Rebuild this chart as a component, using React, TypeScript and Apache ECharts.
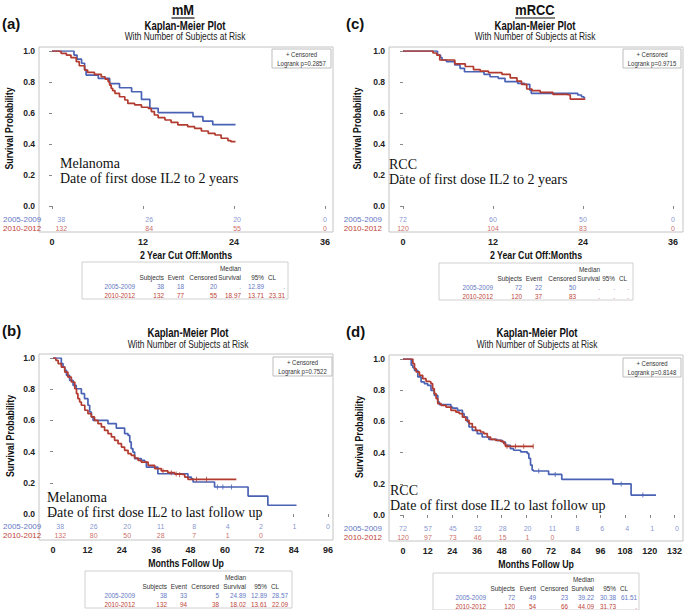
import React, { useEffect, useRef } from "react";
import * as echarts from "echarts";

// ---------------- DATA ----------------
const groups = ["2005-2009", "2010-2012"];

// (a) mM, 2 years
const kmA_2005 = [[0,1],[2.9,0.974],[3.3,0.947],[3.9,0.921],[4.3,0.88],[4.5,0.845],[6.1,0.824],[7.6,0.79],[8.9,0.763],[10.5,0.737],[11.8,0.688],[12.9,0.63],[14.0,0.602],[18.6,0.576],[19.9,0.548],[21.2,0.525],[24.2,0.525]];
const kmA_2010 = [[0,1],[0.8,0.996],[1.2,0.985],[1.9,0.974],[2.5,0.957],[3.2,0.931],[3.6,0.905],[4.3,0.877],[4.7,0.862],[5.6,0.849],[6.5,0.834],[7.0,0.819],[7.4,0.802],[7.6,0.78],[7.8,0.759],[8.0,0.745],[8.3,0.727],[8.9,0.705],[9.6,0.684],[10.0,0.662],[10.9,0.652],[11.8,0.637],[12.7,0.63],[13.1,0.609],[13.5,0.587],[14.0,0.57],[14.9,0.555],[15.7,0.54],[16.6,0.523],[17.9,0.512],[18.8,0.501],[19.7,0.484],[20.6,0.469],[21.5,0.458],[22.3,0.437],[23.2,0.422],[23.6,0.415],[24.2,0.415]];
const riskTimesA = [0, 12, 24, 36];
const riskA_2005 = [38, 26, 20, 0];
const riskA_2010 = [132, 84, 55, 0];
const pA = "0.2857";
const tableA = [["2005-2009","38","18","20",".","12.89","."],["2010-2012","132","77","55","18.97","13.71","23.31"]];

// (c) mRCC, 2 years
const kmC_2005 = [[0,1],[4.6,0.974],[5.0,0.958],[5.2,0.942],[5.8,0.931],[6.9,0.91],[7.6,0.888],[8.2,0.866],[10.8,0.849],[11.6,0.834],[12.7,0.824],[13.6,0.802],[15.3,0.791],[16.2,0.785],[16.9,0.748],[17.1,0.727],[23.3,0.716],[23.8,0.705],[24.1,0.699],[24.3,0.699]];
const kmC_2010 = [[0,1],[4.0,0.987],[4.5,0.974],[4.9,0.942],[6.9,0.917],[8.3,0.9],[9.4,0.88],[10.3,0.87],[11.4,0.86],[13.2,0.849],[14.3,0.826],[15.2,0.806],[15.8,0.785],[16.5,0.755],[17.2,0.744],[18.3,0.733],[20.0,0.72],[21.8,0.716],[22.3,0.69],[24.3,0.69]];
const riskTimesC = [0, 12, 24, 36];
const riskC_2005 = [72, 60, 50, 0];
const riskC_2010 = [120, 104, 83, 0];
const pC = "0.9715";
const tableC = [["2005-2009","72","22","50",".",".","."],["2010-2012","120","37","83",".",".","."]];

// (b) mM, to last follow up
const kmB_2005 = [[0,1],[2.9,0.964],[3.5,0.942],[4.1,0.921],[4.7,0.889],[5.8,0.857],[7.0,0.825],[8.1,0.803],[9.9,0.771],[11.0,0.739],[12.2,0.697],[12.8,0.654],[13.4,0.622],[14.0,0.6],[19.2,0.579],[22.1,0.551],[25.0,0.515],[26.2,0.504],[26.8,0.462],[27.3,0.419],[27.9,0.397],[28.5,0.355],[30.8,0.344],[32.0,0.333],[32.6,0.301],[36.6,0.258],[47.1,0.237],[48.3,0.226],[48.9,0.205],[56.4,0.173],[68.1,0.115],[75.0,0.056],[85.0,0.056]];
const kmB_2010 = [[0,1],[1.0,0.985],[1.8,0.964],[2.9,0.942],[4.1,0.91],[5.2,0.878],[6.4,0.846],[7.6,0.803],[8.2,0.771],[8.7,0.739],[9.3,0.718],[9.9,0.697],[11.1,0.665],[12.2,0.643],[13.4,0.622],[14.5,0.6],[15.7,0.579],[16.9,0.558],[18.0,0.536],[19.2,0.515],[20.4,0.494],[21.5,0.472],[22.7,0.451],[23.9,0.429],[25.0,0.408],[26.2,0.387],[27.3,0.376],[28.5,0.359],[29.7,0.344],[30.8,0.333],[33.2,0.312],[35.5,0.291],[37.8,0.276],[40.1,0.265],[42.5,0.256],[44.8,0.252],[46.0,0.237],[47.1,0.222],[64.0,0.222]];
const censorB_2005 = [[57.4,0.173],[59.3,0.173],[62.3,0.173]];
const censorB_2010 = [[38.4,0.276],[41.3,0.265],[43.0,0.256],[44.2,0.252],[50.1,0.222],[53.6,0.222]];
const riskTimesB = [0, 12, 24, 36, 48, 60, 72, 84, 96];
const riskB_2005 = [38, 26, 20, 11, 8, 4, 2, 1, 0];
const riskB_2010 = [132, 80, 50, 28, 7, 1, 0];
const pB = "0.7522";
const tableB = [["2005-2009","38","33","5","24.89","12.89","28.57"],["2010-2012","132","94","38","18.02","13.61","22.09"]];

// (d) mRCC, to last follow up
const kmD_2005 = [[0,1],[4.0,0.96],[4.8,0.945],[5.6,0.927],[7.2,0.885],[8.8,0.853],[10.4,0.842],[12.0,0.831],[13.6,0.799],[15.2,0.767],[16.9,0.724],[17.7,0.707],[23.3,0.692],[24.1,0.685],[26.5,0.671],[28.9,0.65],[29.7,0.628],[31.3,0.596],[32.1,0.564],[33.7,0.543],[36.1,0.521],[38.5,0.5],[41.7,0.485],[45.7,0.479],[48.2,0.468],[49.8,0.447],[52.2,0.425],[53.8,0.415],[57.2,0.405],[60.4,0.395],[61.2,0.363],[62.0,0.32],[62.8,0.288],[63.4,0.282],[70.8,0.26],[77.2,0.229],[102.1,0.199],[110.9,0.128],[123.0,0.128]];
const kmD_2010 = [[0,1],[4.0,1],[4.8,0.97],[5.6,0.938],[6.4,0.917],[8.0,0.895],[9.6,0.874],[11.2,0.857],[12.8,0.853],[13.6,0.842],[14.4,0.81],[15.2,0.778],[16.1,0.746],[16.9,0.714],[18.5,0.703],[20.9,0.692],[23.3,0.671],[25.7,0.66],[27.3,0.65],[28.9,0.628],[30.5,0.607],[32.1,0.586],[33.7,0.564],[35.3,0.543],[37.7,0.532],[39.3,0.521],[41.0,0.5],[42.6,0.485],[45.0,0.479],[47.4,0.472],[49.0,0.457],[49.8,0.44],[63.4,0.44]];
const censorD_2005 = [[66.0,0.282],[74.0,0.26],[106.1,0.199],[116.6,0.128]];
const censorD_2010 = [[50.6,0.44],[54.7,0.44],[58.7,0.44],[63.3,0.44]];
const riskTimesD = [0, 12, 24, 36, 48, 60, 72, 84, 96, 108, 120, 132];
const riskD_2005 = [72, 57, 45, 32, 28, 20, 11, 8, 6, 4, 1, 0];
const riskD_2010 = [120, 97, 73, 46, 15, 1, 0];
const pD = "0.8148";
const tableD = [["2005-2009","72","49","23","39.22","30.38","61.51"],["2010-2012","120","54","66","44.09","31.73","."]];

const tableHeader = ["Subjects", "Event", "Censored", "Survival", "95%", "CL"];

// ---------------- STYLE / LAYOUT ----------------
const BLUE = "#4a62b4";
const RED = "#b23a2e";
const BLUE_T = "#6577c4";
const RED_T = "#c0443a";
const SANS = "'Liberation Sans',Arial,sans-serif";
const SERIF = "'Liberation Serif','Times New Roman',serif";
const NX = 0.8; // horizontal squeeze to mimic a narrow font

const panels = [
  {
    letter: "(a)", letterPos: [2, 23], head: "mM", headPos: [183, 10], titleX: 185, titleY: 26, subY: 37,
    frame: [39, 47, 294, 185], plot: [52, 51, 273, 155], xmax: 36, xName: "2 Year Cut Off:Months", xNameY: 255,
    riskTop: 214.5, riskMargin: 20, yNameX: 9, legend: [272, 49, 59, 19],
    ann: [60, 163, 178], annText: ["Melanoma", "Date of first dose IL2 to 2 years"],
    tablePos: [82, 262, 206, 37], cols: [53, 82, 102, 135, 159, 182, 203],
    blue: kmA_2005, red: kmA_2010, cb: [], cr: [], rt: riskTimesA, rb: riskA_2005, rr: riskA_2010, p: pA, table: tableA,
  },
  {
    letter: "(c)", letterPos: [346, 23], head: "mRCC", headPos: [535, 10], titleX: 535, titleY: 26, subY: 37,
    frame: [389, 47, 294, 185], plot: [403, 51, 270, 155], xmax: 36, xName: "2 Year Cut Off:Months", xNameY: 255,
    riskTop: 214.5, riskMargin: 21, yNameX: 357, legend: [623, 49, 58, 19],
    ann: [389, 164, 179], annText: ["RCC", "Date of first dose IL2 to 2 years"],
    tablePos: [439, 263, 194, 37], cols: [54, 83, 103, 137, 161, 176, 190],
    blue: kmC_2005, red: kmC_2010, cb: [], cr: [], rt: riskTimesC, rb: riskC_2005, rr: riskC_2010, p: pC, table: tableC,
  },
  {
    letter: "(b)", letterPos: [2, 330], head: "", headPos: [0, 0], titleX: 188, titleY: 333, subY: 345,
    frame: [39, 354, 294, 186], plot: [53, 358, 275, 156], xmax: 96, xName: "Months Follow Up", xNameY: 563,
    riskTop: 521.5, riskMargin: 19, yNameX: 10, legend: [273, 357, 59, 19],
    ann: [47, 497, 512], annText: ["Melanoma", "Date of first dose IL2 to last follow up"],
    tablePos: [85, 571, 207, 37], cols: [50, 82, 102, 134, 161, 182, 203],
    blue: kmB_2005, red: kmB_2010, cb: censorB_2005, cr: censorB_2010, rt: riskTimesB, rb: riskB_2005, rr: riskB_2010, p: pB, table: tableB,
  },
  {
    letter: "(d)", letterPos: [346, 331], head: "", headPos: [0, 0], titleX: 537, titleY: 333, subY: 345,
    frame: [389, 355, 294, 186], plot: [403, 359, 274, 156], xmax: 132, xName: "Months Follow Up", xNameY: 564,
    riskTop: 523.5, riskMargin: 21, yNameX: 359, legend: [623, 358, 58, 19],
    ann: [390, 490, 505], annText: ["RCC", "Date of first dose IL2 to last follow up"],
    tablePos: [433, 573, 206, 37], cols: [53, 82, 103, 135, 161, 183, 204],
    blue: kmD_2005, red: kmD_2010, cb: censorD_2005, cr: censorD_2010, rt: riskTimesD, rb: riskD_2005, rr: riskD_2010, p: pD, table: tableD,
  },
];

function txt(x: number, y: number, text: string, o: any = {}) {
  return {
    type: "text", x, y, silent: true, z: 10,
    scaleX: o.sx == null ? NX : o.sx,
    rotation: o.rot || 0,
    style: {
      text, fill: o.fill || "#222", fontSize: o.size || 9, fontWeight: o.weight || "normal",
      fontFamily: o.family || SANS, align: o.align || "left", verticalAlign: "middle",
    },
  };
}

function buildOption() {
  const grid: any[] = [], xAxis: any[] = [], yAxis: any[] = [], series: any[] = [], graphic: any[] = [];
  panels.forEach((P, i) => {
    const gi = i * 2, ri = i * 2 + 1;
    const [fx, fy, fw, fh] = P.frame;
    const [px, py, pw, ph] = P.plot;
    grid.push({ left: px, top: py, width: pw, height: ph });
    grid.push({ left: px, top: P.riskTop, width: pw, height: 18 });
    xAxis.push({
      gridIndex: gi, type: "value", min: 0, max: P.xmax, interval: 12,
      offset: fy + fh - (py + ph),
      axisLine: { show: false }, axisTick: { show: true, length: 3, lineStyle: { color: "#888" } },
      axisLabel: { fontSize: 9, fontWeight: "bold", color: "#222", margin: 5, fontFamily: SANS },
      splitLine: { show: false },
    });
    xAxis.push({ gridIndex: ri, type: "value", min: 0, max: P.xmax, show: false });
    yAxis.push({
      gridIndex: gi, type: "value", min: 0, max: 1, interval: 0.2, offset: px - fx,
      axisLine: { show: false }, axisTick: { show: true, length: 3, lineStyle: { color: "#888" } },
      axisLabel: { fontSize: 8.5, fontWeight: "bold", color: "#222", margin: 4, fontFamily: SANS, formatter: (v: number) => v.toFixed(1) },
      splitLine: { show: false },
    });
    yAxis.push({
      gridIndex: ri, type: "category", data: [groups[1], groups[0]],
      axisLine: { show: false }, axisTick: { show: false },
      axisLabel: {
        interval: 0, margin: P.riskMargin, fontSize: 8, fontFamily: SANS,
        formatter: (v: string) => (v === groups[0] ? "{b|" + v + "}" : "{r|" + v + "}"),
        rich: { b: { color: BLUE_T, fontSize: 8, fontFamily: SANS }, r: { color: RED_T, fontSize: 8, fontFamily: SANS } },
      },
    });
    series.push({
      type: "line", step: "end", xAxisIndex: gi, yAxisIndex: gi, data: P.blue, showSymbol: false, silent: true,
      lineStyle: { color: BLUE, width: 1.7 }, itemStyle: { color: BLUE }, z: 3,
    });
    series.push({
      type: "line", step: "end", xAxisIndex: gi, yAxisIndex: gi, data: P.red, showSymbol: false, silent: true,
      lineStyle: { color: RED, width: 1.7 }, itemStyle: { color: RED }, z: 4,
    });
    if (P.cb.length) series.push({ type: "scatter", xAxisIndex: gi, yAxisIndex: gi, data: P.cb, symbol: "rect", symbolSize: [1, 5], itemStyle: { color: BLUE }, silent: true, z: 5 });
    if (P.cr.length) series.push({ type: "scatter", xAxisIndex: gi, yAxisIndex: gi, data: P.cr, symbol: "rect", symbolSize: [1, 5], itemStyle: { color: RED }, silent: true, z: 5 });
    [[P.rb, groups[0], BLUE_T], [P.rr, groups[1], RED_T]].forEach(([vals, g, c]: any) => {
      series.push({
        type: "scatter", xAxisIndex: ri, yAxisIndex: ri, symbolSize: 0, silent: true,
        data: vals.map((n: number, k: number) => [P.rt[k], g, n]),
        label: { show: true, position: "inside", formatter: (p: any) => String(p.value[2]), fontSize: 7, color: c, fontFamily: SANS },
      });
    });

    // frame
    graphic.push({ type: "rect", silent: true, shape: { x: fx, y: fy, width: fw, height: fh }, style: { fill: "none", stroke: "#c4c4c4", lineWidth: 1 } });
    // axis titles
    graphic.push(txt(fx + fw / 2, P.xNameY, P.xName, { size: 11, weight: "bold", align: "center", fill: "#111" }));
    graphic.push(txt(P.yNameX, py + ph / 2, "Survival Probability", { size: 11, weight: "bold", align: "center", fill: "#111", rot: Math.PI / 2 }));
    // legend box
    const [lx, ly, lw, lh] = P.legend;
    graphic.push({ type: "rect", silent: true, shape: { x: lx, y: ly, width: lw, height: lh }, style: { fill: "#fff", stroke: "#bdbdbd", lineWidth: 1 }, z: 9 });
    graphic.push(txt(lx + lw / 2, ly + 5, "+ Censored", { size: 7.5, align: "center", fill: "#333" }));
    graphic.push(txt(lx + lw / 2, ly + 14, "Logrank p=" + P.p, { size: 7.5, align: "center", fill: "#333" }));
    // annotation
    graphic.push(txt(P.ann[0], P.ann[1], P.annText[0], { size: 14, family: SERIF, fill: "#111", sx: 1 }));
    graphic.push(txt(P.ann[0], P.ann[2], P.annText[1], { size: 14, family: SERIF, fill: "#111", sx: 1 }));
    // titles
    graphic.push(txt(P.letterPos[0], P.letterPos[1], P.letter, { size: 15, weight: "bold", fill: "#111", sx: 1 }));
    graphic.push(txt(P.titleX, P.titleY, "Kaplan-Meier Plot", { size: 12, weight: "bold", align: "center", fill: "#111" }));
    graphic.push(txt(P.titleX, P.subY, "With Number of Subjects at Risk", { size: 10, align: "center", fill: "#222", sx: 0.84 }));
    if (P.head) {
      graphic.push(txt(P.headPos[0], P.headPos[1], P.head, { size: 14, weight: "bold", align: "center", fill: "#111", sx: 0.92 }));
      const hw = P.head.length > 2 ? 40 : 23;
      graphic.push({ type: "line", silent: true, shape: { x1: P.headPos[0] - hw / 2, y1: 18, x2: P.headPos[0] + hw / 2, y2: 18 }, style: { stroke: "#111", lineWidth: 1.2 } });
    }
    // table
    const [tx, ty, tw, th] = P.tablePos;
    const C = P.cols;
    graphic.push({ type: "rect", silent: true, shape: { x: tx, y: ty, width: tw, height: th }, style: { fill: "#fff", stroke: "#d0d0d0", lineWidth: 1 } });
    graphic.push(txt(tx + C[4], ty + 6, "Median", { size: 8, align: "right", fill: "#333" }));
    for (let k = 0; k < 5; k++) graphic.push(txt(tx + C[k + 1], ty + 15, tableHeader[k], { size: 8, align: "right", fill: "#333" }));
    graphic.push(txt(tx + C[5] + 4, ty + 15, tableHeader[5], { size: 8, align: "left", fill: "#333" }));
    P.table.forEach((row: string[], r: number) => {
      const col = r === 0 ? BLUE_T : RED_T;
      row.forEach((cell, k) => graphic.push(txt(tx + C[k], ty + 24 + r * 9, cell, { size: 8, align: "right", fill: col })));
    });
  });
  return {
    animation: false,
    backgroundColor: "#fff",
    textStyle: { fontFamily: SANS },
    grid, xAxis, yAxis, series, graphic,
  };
}

export default function App() {
  const ref = useRef<HTMLDivElement>(null);
  useEffect(() => {
    if (!ref.current) return;
    const chart = echarts.init(ref.current, undefined, { renderer: "svg" });
    chart.setOption(buildOption() as any);
    return () => chart.dispose();
  }, []);
  return <div ref={ref} style={{ position: "fixed", left: 0, top: 0, width: 685, height: 610 }} />;
}
